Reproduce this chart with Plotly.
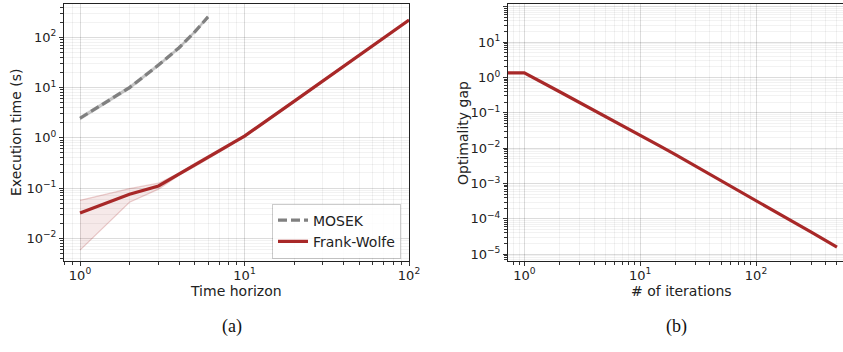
import numpy as np
import plotly.graph_objects as go

# ---- (a) execution time vs. time horizon ----
horizon = [1, 2, 3, 4, 5, 6, 7, 8, 9, 10, 20, 30, 40, 50, 60, 70, 80, 90, 100]
fw_mean = [0.032, 0.075, 0.11, 0.19, 0.29, 0.41, 0.55, 0.70, 0.91, 1.08,
           5.3, 13.4, 26.5, 44.5, 68, 96, 130, 170, 220]
fw_upper = [0.057, 0.097, 0.125, 0.20, 0.31, 0.44, 0.58, 0.74, 0.95, 1.13,
            5.5, 13.8, 27.2, 45.6, 69.5, 98, 133, 174, 225]
fw_lower = [0.0058, 0.052, 0.095, 0.18, 0.27, 0.38, 0.52, 0.66, 0.87, 1.03,
            5.1, 13.0, 25.8, 43.4, 66.5, 94, 127, 166, 215]

mosek_horizon = [1, 2, 3, 4, 5, 6]
mosek_mean = [2.45, 10.0, 28, 62, 130, 255]
mosek_upper = [2.6, 10.6, 29.5, 65, 136, 267]
mosek_lower = [2.3, 9.4, 26.5, 59, 124, 243]

# ---- (b) optimality gap vs. iterations ----
iterations = [0, 1, 2, 3, 5, 7, 10, 15, 20, 30, 50, 70, 100, 150, 200, 300, 500]
gap = [1.35, 1.35, 0.401, 0.197, 0.0807, 0.0441, 0.0232, 0.0112, 0.00665, 0.00314,
       0.00122, 0.000656, 0.000339, 0.000157, 0.0000908, 0.0000421, 0.0000159]

# ---- tick labels ----
horizon_ticks = [1, 10, 100]
horizon_ticktext = ["10<sup>0</sup>", "10<sup>1</sup>", "10<sup>2</sup>"]
time_ticks = [0.01, 0.1, 1, 10, 100]
time_ticktext = ["10<sup>\u22122</sup>", "10<sup>\u22121</sup>", "10<sup>0</sup>",
                 "10<sup>1</sup>", "10<sup>2</sup>"]
iter_ticks = [1, 10, 100]
iter_ticktext = ["10<sup>0</sup>", "10<sup>1</sup>", "10<sup>2</sup>"]
gap_ticks = [1e-5, 1e-4, 1e-3, 1e-2, 1e-1, 1, 10, 100]
gap_ticktext = ["10<sup>\u22125</sup>", "10<sup>\u22124</sup>", "10<sup>\u22123</sup>",
                "10<sup>\u22122</sup>", "10<sup>\u22121</sup>", "10<sup>0</sup>",
                "10<sup>1</sup>", "10<sup>2</sup>"]

RED = "#a82828"
GRAY = "#808080"
FONT = "DejaVu Sans"

fig = go.Figure()

# MOSEK band + dashed mean
fig.add_trace(go.Scatter(x=mosek_horizon, y=mosek_upper, mode="lines",
                         line=dict(color="rgba(128,128,128,0.3)", width=1.5),
                         showlegend=False, hoverinfo="skip", xaxis="x", yaxis="y"))
fig.add_trace(go.Scatter(x=mosek_horizon, y=mosek_lower, mode="lines", fill="tonexty",
                         fillcolor="rgba(128,128,128,0.35)",
                         line=dict(color="rgba(128,128,128,0.3)", width=1.5),
                         showlegend=False, hoverinfo="skip", xaxis="x", yaxis="y"))
fig.add_trace(go.Scatter(x=mosek_horizon, y=mosek_mean, mode="lines", name="MOSEK",
                         line=dict(color=GRAY, width=3.2, dash="9px,4px"),
                         xaxis="x", yaxis="y"))

# Frank-Wolfe band + mean
fig.add_trace(go.Scatter(x=horizon, y=fw_upper, mode="lines",
                         line=dict(color="rgba(168,40,40,0.22)", width=1.2),
                         showlegend=False, hoverinfo="skip", xaxis="x", yaxis="y"))
fig.add_trace(go.Scatter(x=horizon, y=fw_lower, mode="lines", fill="tonexty",
                         fillcolor="rgba(168,40,40,0.1)",
                         line=dict(color="rgba(168,40,40,0.22)", width=1.2),
                         showlegend=False, hoverinfo="skip", xaxis="x", yaxis="y"))
fig.add_trace(go.Scatter(x=horizon, y=fw_mean, mode="lines", name="Frank-Wolfe",
                         line=dict(color=RED, width=3.2), xaxis="x", yaxis="y"))

# Optimality gap: iteration 0 is clipped to a tiny positive value on the log axis
iter_plot = np.clip(np.array(iterations, dtype=float), 1e-2, None)
fig.add_trace(go.Scatter(x=iter_plot, y=gap, mode="lines", showlegend=False,
                         line=dict(color=RED, width=3.2), xaxis="x2", yaxis="y2"))

W, H = 843, 352
tickfont = dict(family=FONT, size=13, color="#222")
titlefont = dict(family=FONT, size=14, color="#222")
minor = dict(dtick="D1", ticks="outside", ticklen=2.5, tickcolor="#333",
             showgrid=True, gridcolor="rgba(0,0,0,0.05)", gridwidth=1)


def log_axis(rng, domain, tickvals, ticktext, mirror, anchor, standoff):
    return dict(type="log", range=rng, domain=domain, anchor=anchor, automargin=False,
                tickmode="array", tickvals=tickvals, ticktext=ticktext,
                ticks="outside", ticklen=4, tickcolor="#333", tickwidth=1,
                ticklabelstandoff=standoff,
                showline=True, linecolor="#222", linewidth=1.1, mirror=mirror,
                showgrid=True, gridcolor="rgba(0,0,0,0.09)", gridwidth=1,
                minor=minor, zeroline=False, tickfont=tickfont)


def label(text, x, y, angle=0, font=titlefont):
    return dict(text=text, x=x / W, y=1 - y / H, xref="paper", yref="paper",
                xanchor="center", yanchor="middle", textangle=angle,
                showarrow=False, font=font)


serif = dict(family="Liberation Serif", size=18, color="#111")

fig.update_layout(
    width=W, height=H,
    margin=dict(l=0, r=0, t=0, b=0, autoexpand=False),
    paper_bgcolor="white", plot_bgcolor="white",
    xaxis=log_axis([-0.0973, 2.0], [64 / W, 409 / W], horizon_ticks, horizon_ticktext,
                   True, "y", -2),
    yaxis=log_axis([-2.452, 2.663], [1 - 261 / H, 1 - 4 / H], time_ticks, time_ticktext,
                   True, "x", 0),
    xaxis2=log_axis([-0.1407, 2.751], [508 / W, 1.0], iter_ticks, iter_ticktext,
                    True, "y2", -2),
    yaxis2=log_axis([-5.19, 2.076], [1 - 261 / H, 1 - 4 / H], gap_ticks, gap_ticktext,
                    False, "x2", 0),
    legend=dict(x=401 / W, y=1 - 231 / H, xanchor="right", yanchor="middle",
                traceorder="normal", tracegroupgap=0, itemwidth=30,
                bgcolor="rgba(255,255,255,0.85)", bordercolor="rgba(0,0,0,0.2)",
                borderwidth=1, font=dict(family=FONT, size=14, color="#222")),
    annotations=[
        label("Time horizon", 236, 290.5),
        label("Execution time (s)", 15.5, 132.5, -90),
        label("# of iterations", 681, 290.5),
        label("Optimality gap", 462.5, 132.5, -90),
        label("(a)", 232, 326, font=serif),
        label("(b)", 676, 326, font=serif),
    ],
)

fig.write_html("out.html")
